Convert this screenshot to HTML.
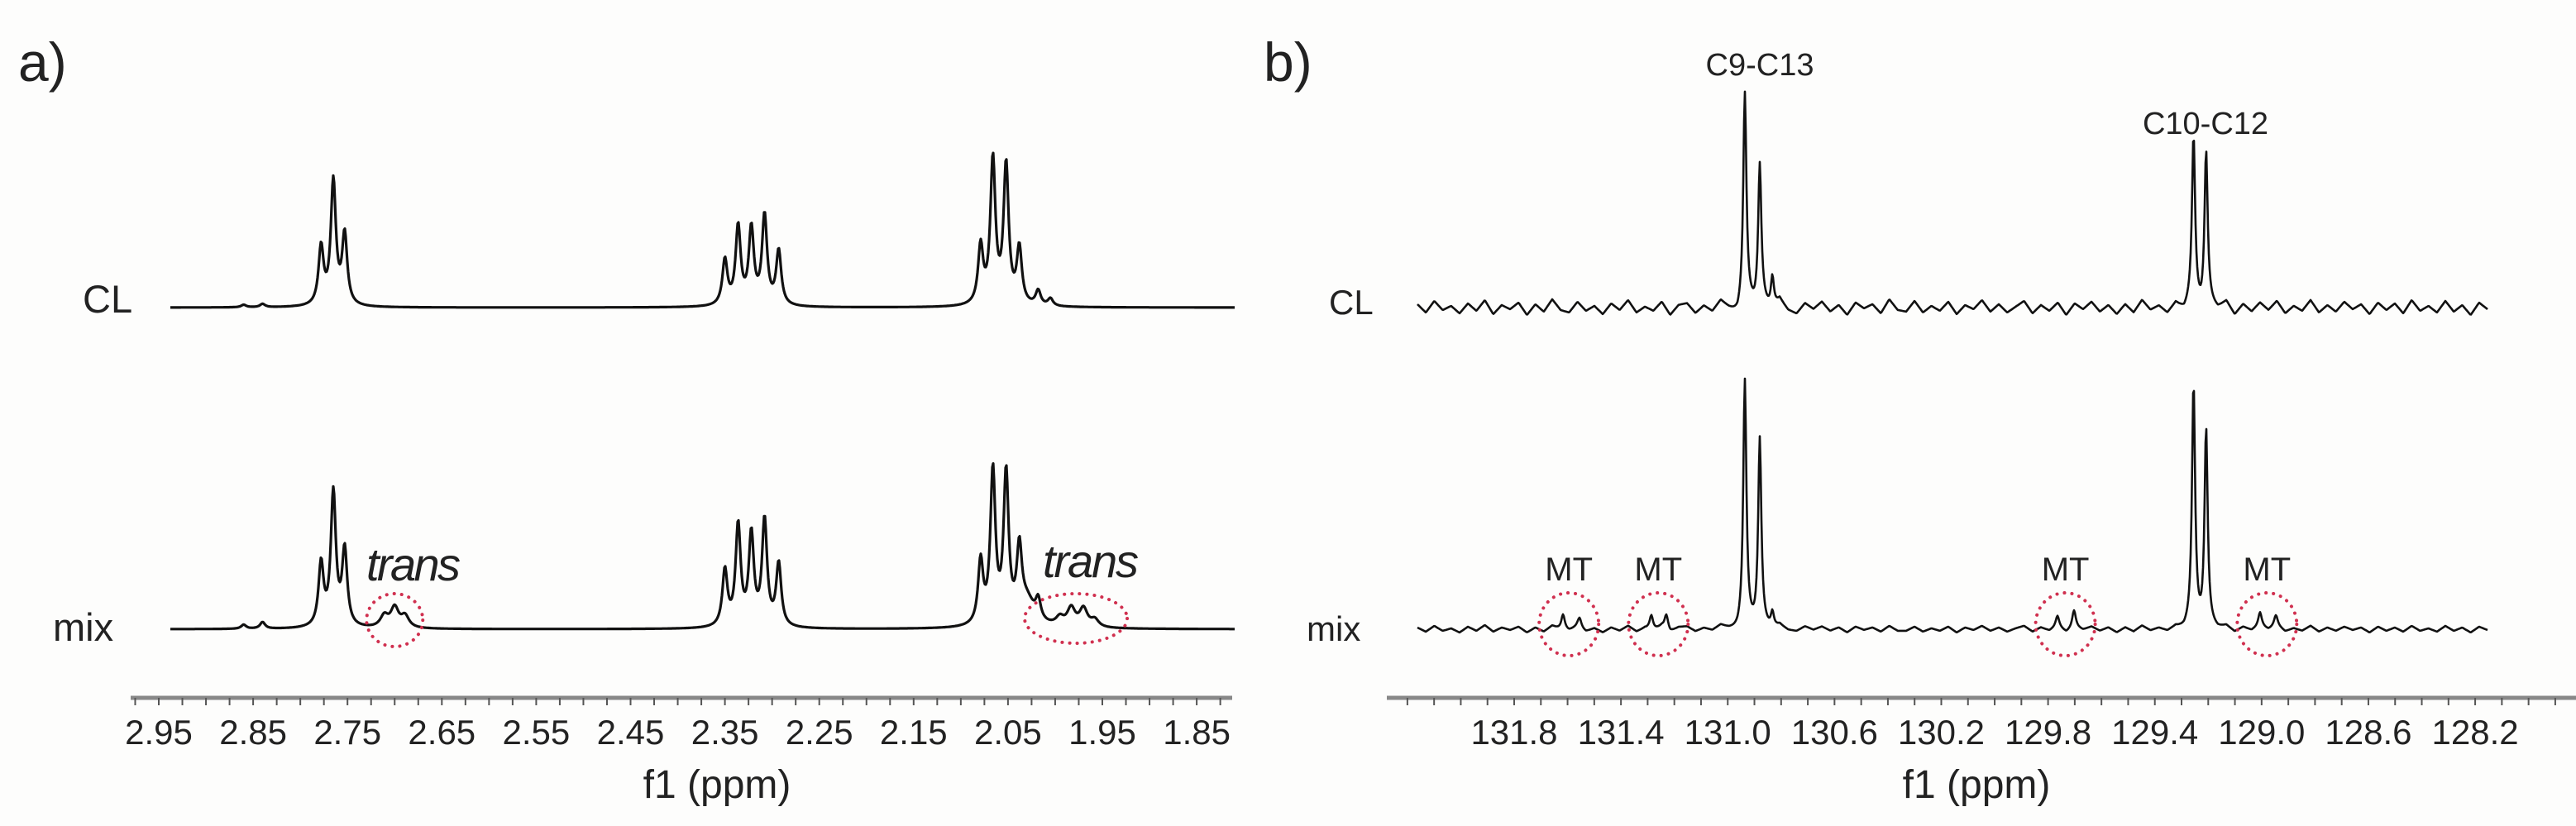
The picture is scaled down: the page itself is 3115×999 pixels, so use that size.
<!DOCTYPE html>
<html><head><meta charset="utf-8"><style>
html,body{margin:0;padding:0;background:#fdfdfc;}
svg{display:block;font-family:"Liberation Sans",Arial,sans-serif;}
</style></head><body>
<svg id="fig" width="3115" height="999" viewBox="0 0 3115 999">
<rect width="3115" height="999" fill="#fdfdfc"/>
<text x="22" y="98" font-size="66" fill="#222">a)</text>
<text x="1528" y="98" font-size="66" fill="#222">b)</text>
<text x="100" y="378" font-size="47" fill="#222">CL</text>
<text x="64" y="775" font-size="47" fill="#222">mix</text>
<text x="1607" y="380" font-size="42" fill="#222">CL</text>
<text x="1580" y="775" font-size="42" fill="#222">mix</text>
<text x="2128" y="91" font-size="38" text-anchor="middle" fill="#222">C9-C13</text>
<text x="2667" y="162" font-size="38" text-anchor="middle" fill="#222">C10-C12</text>
<text x="443" y="702" font-size="56" font-style="italic" fill="#222" textLength="114">trans</text>
<text x="1261" y="698" font-size="56" font-style="italic" fill="#222" textLength="116">trans</text>
<text x="867" y="965" font-size="48" text-anchor="middle" fill="#222">f1 (ppm)</text>
<text x="2390" y="965" font-size="48" text-anchor="middle" fill="#222">f1 (ppm)</text>
<g id="gA"></g><g id="gB"></g>
</svg>
<script>
// ---- Panel a data (1H, ppm) ----
const aTickLabels = ["2.95","2.85","2.75","2.65","2.55","2.45","2.35","2.25","2.15","2.05","1.95","1.85"];
const aPeakPpm = [2.778,2.765,2.753, 2.350,2.336,2.322,2.308,2.293, 2.079,2.066,2.052,2.038,2.018,2.005, 2.84,2.86];
const aClHeights = [70,150,85, 55,95,92,108,66, 70,175,168,68,18,9, 4,3];
const aMixHeights = [76,162,92, 68,122,110,128,76, 76,185,180,82,24,0, 8,5];
const aTransPpm = [2.711,2.700,2.689, 1.995,1.983,1.970,1.958];
const aTransHeights = [14,24,14, 10,22,22,9];
// ---- Panel b data (13C, ppm) ----
const bTickLabels = ["131.8","131.4","131.0","130.6","130.2","129.8","129.4","129.0","128.6","128.2"];
const bPeakPpm = [130.936,130.880,130.833,129.255,129.208];
const bClHeights = [255,170,40,200,188];
const bMixHeights = [298,228,20,292,240];
const bMtPpm = [131.617,131.555,131.286,131.230,129.765,129.703,129.006,128.947];
const bMtHeights = [19,12,18,18,13,21,17,13];
const bMtCenters = [131.595,131.26,129.735,128.98];
const noiseCL = [4,-6,8,-3,2,-7,5,-4,9,-8,3,-2,6,-9,4,-5,10,-3,-6,7,-4,2,-8,5,-3,9,-6,1,-4,7,-9,3,5,-7,2,-5,8,-2,-10,6,-3,4,-6,9,-4,-8,5,-2,7,-5,3,-9,6,-1,4,-7,10,-3,-5,8,-6,2,-4,7,-8,3,-2,9,-5,4,-6,1,8,-7,3,-4,6,-9,5,-2,7,-5,3,-8,4,-6,9,-3,2,-7,5,-4,8,-6,3,-2,7,-9,4,-5,6,-3,8,-7,2,-4,9,-6,3,-5,7,-2,4,-8,6,-3,5,-7,9,-4,2,-6,8,-5,3,-9,6,-2];
const noiseMix = [2,-3,4,-2,1,-4,3,-2,5,-3,2,-1,3,-4,2,-3,4,-1,-2,3,-3,1,-4,2,-2,4,-3,1,-2,3,-4,2,3,-3,1,-2,4,-1,-4,3,-2,2,-3,4,-2,-3,3,-1,3,-2,2,-4,3,-1,2,-3,4,-2,-2,3,-3,1,-2,3,-4,2,-1,4,-2,2,-3,1,4,-3,2,-2,3,-4,2,-1,3,-2,2,-4,2,-3,4,-2,1,-3,2,-2,4,-3,2,-1,3,-4,2,-2,3,-1,4,-3,1,-2,4,-3,2,-2,3,-1,2,-4,3,-2,2,-3,4,-2,1,-3,4,-2,2,-4,3,-1];

const NS='http://www.w3.org/2000/svg';
function mk(tag, attrs, parent){const e=document.createElementNS(NS,tag);for(const k in attrs)e.setAttribute(k,attrs[k]);parent.appendChild(e);return e;}
const gA=document.getElementById('gA'), gB=document.getElementById('gB');

// axis functions
const xA = p => 192 + (2.95 - p) * 1141;
const pA = x => 2.95 - (x - 192) / 1141;
const xB = p => 1831 + (131.8 - p) * 322.8;
const pB = x => 131.8 - (x - 1831) / 322.8;
const lor = (d,g) => 1/(1+(d/g)*(d/g));

function traceA(base, heights, withTrans){
  let d='';
  for(let x=206;x<=1493;x+=1){
    const p=pA(x); let y=0;
    for(let i=0;i<aPeakPpm.length;i++) y+=heights[i]*lor(p-aPeakPpm[i],0.0032);
    if(withTrans){ for(let i=0;i<aTransPpm.length;i++) y+=aTransHeights[i]*lor(p-aTransPpm[i],0.005);
      y+=30*lor(p-2.03,0.01); }
    d+=(x===206?'M':'L')+x+','+(base-y).toFixed(1);
  }
  return d;
}
function traceB(base, heights, noise, withMT){
  let d='';
  const x0=1714,x1=3008,step=(x1-x0)/(noise.length-1);
  for(let x=x0;x<=x1;x+=1){
    const p=pB(x); let y=0;
    for(let i=0;i<bPeakPpm.length;i++) y+=heights[i]*lor(p-bPeakPpm[i],0.007);
    if(withMT) for(let i=0;i<bMtPpm.length;i++) y+=bMtHeights[i]*lor(p-bMtPpm[i],0.008);
    const k=(x-x0)/step, i0=Math.min(Math.floor(k),noise.length-2), f=k-i0;
    y+=noise[i0]*(1-f)+noise[i0+1]*f;
    d+=(x===x0?'M':'L')+x+','+(base-y).toFixed(1);
  }
  return d;
}
let e;
e=mk('path',{d:traceA(372,aClHeights,false),fill:'none',stroke:'#111','stroke-width':3.2,'stroke-linejoin':'round'},gA);


e=mk('path',{d:traceA(761,aMixHeights,true),fill:'none',stroke:'#111','stroke-width':3.2,'stroke-linejoin':'round'},gA);


e=mk('path',{d:traceB(372,bClHeights,noiseCL,false),fill:'none',stroke:'#111','stroke-width':2.6,'stroke-linejoin':'round'},gB);


e=mk('path',{d:traceB(761,bMixHeights,noiseMix,true),fill:'none',stroke:'#111','stroke-width':2.6,'stroke-linejoin':'round'},gB);



// trans ellipses
const dot={fill:'none',stroke:'#d0304f','stroke-width':4,'stroke-dasharray':'0.1 9','stroke-linecap':'round'};
e=mk('ellipse',Object.assign({cx:xA(2.700),cy:750,rx:34,ry:32},dot),gA);


e=mk('ellipse',Object.assign({cx:xA(1.978),cy:748,rx:62,ry:30},dot),gA);


// MT circles & labels
bMtCenters.forEach(p=>{
  let c=mk('ellipse',Object.assign({cx:xB(p),cy:755,rx:36,ry:38},dot),gB);
  
  
  let t=mk('text',{x:xB(p),y:702,'font-size':40,'text-anchor':'middle',fill:'#222'},gB);
  t.textContent='MT';
  
  
});

// axes
function axis(g,x0,x1,ticksFrom,ticksTo,tickStep,xf,labels,labelVal,name){
  let l=mk('line',{x1:x0,y1:844,x2:x1,y2:844,stroke:'#888','stroke-width':5},g);
  
  
  const n=Math.round((ticksFrom-ticksTo)/tickStep);
  for(let i=0;i<=n;i++){
    const x=xf(ticksFrom-i*tickStep);
    if(x<x0-1||x>x1+1) continue;
    let t=mk('line',{x1:x,y1:844,x2:x,y2:853,stroke:'#555','stroke-width':2},g);
    
    
  }
  labels.forEach(s=>{
    let t=mk('text',{x:xf(labelVal(s)),y:900,'font-size':42,'text-anchor':'middle',fill:'#222'},g);
    t.textContent=s;
    
    
  });
}
axis(gA,158,1490,2.975,1.825,0.025,xA,aTickLabels,parseFloat,'x-axis-a');
axis(gB,1677,3115,132.2,127.8,0.1,xB,bTickLabels,parseFloat,'x-axis-b');
</script>
</body></html>
